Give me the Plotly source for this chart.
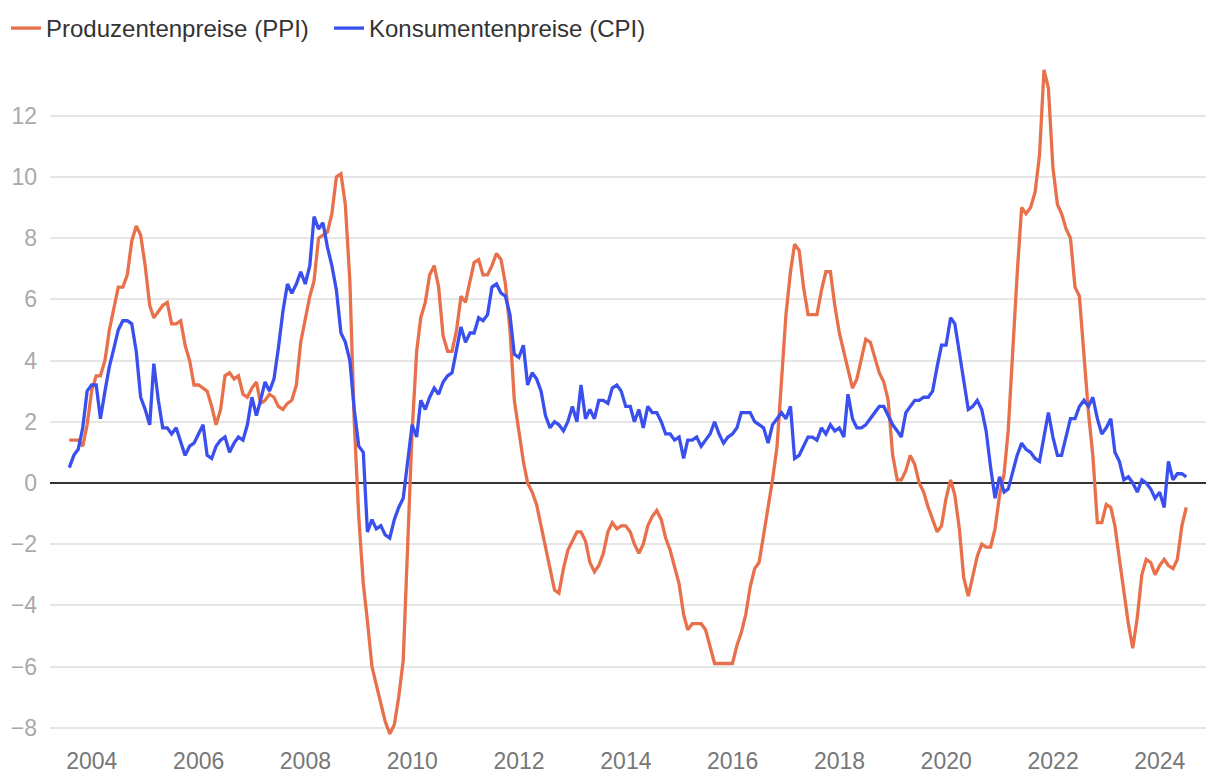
import pandas as pd
import plotly.graph_objects as go

# Monthly data, July 2003 - June 2024 (year-on-year change, %)
start_month = "2003-07-01"

ppi = [
    # 2003 (Jul-Dec)
    1.4, 1.4, 1.4, 1.2, 1.9, 3.0,
    # 2004
    3.5, 3.5, 4.0, 5.0, 5.7, 6.4, 6.4, 6.8, 7.9, 8.4, 8.1, 7.1,
    # 2005
    5.8, 5.4, 5.6, 5.8, 5.9, 5.2, 5.2, 5.3, 4.5, 4.0, 3.2, 3.2,
    # 2006
    3.1, 3.0, 2.5, 1.9, 2.4, 3.5, 3.6, 3.4, 3.5, 2.9, 2.8, 3.1,
    # 2007
    3.3, 2.6, 2.7, 2.9, 2.8, 2.5, 2.4, 2.6, 2.7, 3.2, 4.6, 5.4,
    # 2008
    6.1, 6.6, 8.0, 8.1, 8.2, 8.8, 10.0, 10.1, 9.1, 6.6, 2.0, -1.1,
    # 2009
    -3.3, -4.5, -6.0, -6.6, -7.2, -7.8, -8.2, -7.9, -7.0, -5.8, -2.1, 1.7,
    # 2010
    4.3, 5.4, 5.9, 6.8, 7.1, 6.4, 4.8, 4.3, 4.3, 5.0, 6.1, 5.9,
    # 2011
    6.6, 7.2, 7.3, 6.8, 6.8, 7.1, 7.5, 7.3, 6.5, 5.0, 2.7, 1.7,
    # 2012
    0.7, 0.0, -0.3, -0.7, -1.4, -2.1, -2.9, -3.5, -3.6, -2.8, -2.2, -1.9,
    # 2013
    -1.6, -1.6, -1.9, -2.6, -2.9, -2.7, -2.3, -1.6, -1.3, -1.5, -1.4, -1.4,
    # 2014
    -1.6, -2.0, -2.3, -2.0, -1.4, -1.1, -0.9, -1.2, -1.8, -2.2, -2.7, -3.3,
    # 2015
    -4.3, -4.8, -4.6, -4.6, -4.6, -4.8, -5.4, -5.9, -5.9, -5.9, -5.9, -5.9,
    # 2016
    -5.3, -4.9, -4.3, -3.4, -2.8, -2.6, -1.7, -0.8, 0.1, 1.2, 3.3, 5.5,
    # 2017
    6.9, 7.8, 7.6, 6.4, 5.5, 5.5, 5.5, 6.3, 6.9, 6.9, 5.8, 4.9,
    # 2018
    4.3, 3.7, 3.1, 3.4, 4.1, 4.7, 4.6, 4.1, 3.6, 3.3, 2.7, 0.9,
    # 2019
    0.1, 0.1, 0.4, 0.9, 0.6, 0.0, -0.3, -0.8, -1.2, -1.6, -1.4, -0.5,
    # 2020
    0.1, -0.4, -1.5, -3.1, -3.7, -3.0, -2.4, -2.0, -2.1, -2.1, -1.5, -0.4,
    # 2021
    0.3, 1.7, 4.4, 6.8, 9.0, 8.8, 9.0, 9.5, 10.7, 13.5, 12.9, 10.3,
    # 2022
    9.1, 8.8, 8.3, 8.0, 6.4, 6.1, 4.2, 2.3, 0.9, -1.3, -1.3, -0.7,
    # 2023
    -0.8, -1.4, -2.5, -3.6, -4.6, -5.4, -4.4, -3.0, -2.5, -2.6, -3.0, -2.7,
    # 2024 (Jan-Jun)
    -2.5, -2.7, -2.8, -2.5, -1.4, -0.8,
]

cpi = [
    # 2003 (Jul-Dec)
    0.5, 0.9, 1.1, 1.8, 3.0, 3.2,
    # 2004
    3.2, 2.1, 3.0, 3.8, 4.4, 5.0, 5.3, 5.3, 5.2, 4.3, 2.8, 2.4,
    # 2005
    1.9, 3.9, 2.7, 1.8, 1.8, 1.6, 1.8, 1.3, 0.9, 1.2, 1.3, 1.6,
    # 2006
    1.9, 0.9, 0.8, 1.2, 1.4, 1.5, 1.0, 1.3, 1.5, 1.4, 1.9, 2.8,
    # 2007
    2.2, 2.7, 3.3, 3.0, 3.4, 4.4, 5.6, 6.5, 6.2, 6.5, 6.9, 6.5,
    # 2008
    7.1, 8.7, 8.3, 8.5, 7.7, 7.1, 6.3, 4.9, 4.6, 4.0, 2.4, 1.2,
    # 2009
    1.0, -1.6, -1.2, -1.5, -1.4, -1.7, -1.8, -1.2, -0.8, -0.5, 0.6, 1.9,
    # 2010
    1.5, 2.7, 2.4, 2.8, 3.1, 2.9, 3.3, 3.5, 3.6, 4.4, 5.1, 4.6,
    # 2011
    4.9, 4.9, 5.4, 5.3, 5.5, 6.4, 6.5, 6.2, 6.1, 5.5, 4.2, 4.1,
    # 2012
    4.5, 3.2, 3.6, 3.4, 3.0, 2.2, 1.8, 2.0, 1.9, 1.7, 2.0, 2.5,
    # 2013
    2.0, 3.2, 2.1, 2.4, 2.1, 2.7, 2.7, 2.6, 3.1, 3.2, 3.0, 2.5,
    # 2014
    2.5, 2.0, 2.4, 1.8, 2.5, 2.3, 2.3, 2.0, 1.6, 1.6, 1.4, 1.5,
    # 2015
    0.8, 1.4, 1.4, 1.5, 1.2, 1.4, 1.6, 2.0, 1.6, 1.3, 1.5, 1.6,
    # 2016
    1.8, 2.3, 2.3, 2.3, 2.0, 1.9, 1.8, 1.3, 1.9, 2.1, 2.3, 2.1,
    # 2017
    2.5, 0.8, 0.9, 1.2, 1.5, 1.5, 1.4, 1.8, 1.6, 1.9, 1.7, 1.8,
    # 2018
    1.5, 2.9, 2.1, 1.8, 1.8, 1.9, 2.1, 2.3, 2.5, 2.5, 2.2, 1.9,
    # 2019
    1.7, 1.5, 2.3, 2.5, 2.7, 2.7, 2.8, 2.8, 3.0, 3.8, 4.5, 4.5,
    # 2020
    5.4, 5.2, 4.3, 3.3, 2.4, 2.5, 2.7, 2.4, 1.7, 0.5, -0.5, 0.2,
    # 2021
    -0.3, -0.2, 0.4, 0.9, 1.3, 1.1, 1.0, 0.8, 0.7, 1.5, 2.3, 1.5,
    # 2022
    0.9, 0.9, 1.5, 2.1, 2.1, 2.5, 2.7, 2.5, 2.8, 2.1, 1.6, 1.8,
    # 2023
    2.1, 1.0, 0.7, 0.1, 0.2, 0.0, -0.3, 0.1, 0.0, -0.2, -0.5, -0.3,
    # 2024 (Jan-Jun)
    -0.8, 0.7, 0.1, 0.3, 0.3, 0.2,
]

series_names = ["Produzentenpreise (PPI)", "Konsumentenpreise (CPI)"]
series_colors = ["#E8704B", "#3A50EE"]

tick_years = [2004, 2006, 2008, 2010, 2012, 2014, 2016, 2018, 2020, 2022, 2024]
y_ticks = [-8, -6, -4, -2, 0, 2, 4, 6, 8, 10, 12]

dates = pd.date_range(start_month, periods=len(cpi), freq="MS") + pd.offsets.MonthEnd(0)

fig = go.Figure()
for name, vals, col in zip(series_names, [ppi, cpi], series_colors):
    fig.add_trace(go.Scatter(
        x=dates, y=vals, mode="lines", name=name,
        line=dict(color=col, width=3.3),
        hoverinfo="x+y",
    ))

font_main = "Liberation Sans, Arial, Helvetica, sans-serif"

fig.update_layout(
    width=1220, height=780, autosize=False,
    margin=dict(l=50, r=14, t=60, b=40, autoexpand=False),
    paper_bgcolor="white", plot_bgcolor="white",
    font=dict(family=font_main, size=23, color="#333333"),
    showlegend=True,
    legend=dict(
        orientation="h", xref="container", yref="container",
        x=6 / 1220, xanchor="left", y=1 - 6 / 780, yanchor="top",
        font=dict(family=font_main, size=24, color="#333333"),
        bgcolor="rgba(0,0,0,0)", borderwidth=0,
        entrywidth=278, entrywidthmode="pixels",
        traceorder="normal",
    ),
    xaxis=dict(
        type="date",
        range=["2003-03-21", "2024-11-12"],
        tickvals=[f"{y}-01-01" for y in tick_years],
        ticktext=[str(y) for y in tick_years],
        showgrid=False, zeroline=False, showline=False,
        ticks="", tickfont=dict(size=23, color="#777777"),
        ticklabelstandoff=5,
        automargin=False,
        fixedrange=True,
    ),
    yaxis=dict(
        range=[-8.40, 13.82],
        tickvals=y_ticks,
        showgrid=True, gridcolor="#E6E6E6", gridwidth=1.6,
        zeroline=True, zerolinecolor="#333333", zerolinewidth=2,
        showline=False, ticks="",
        tickfont=dict(size=23, color="#AAAAAA"),
        ticklabelstandoff=12,
        automargin=False,
        fixedrange=True,
    ),
)

fig.write_html(
    "out.html",
    config={"displayModeBar": False},
    post_script="document.body.style.margin='0';document.body.style.overflow='hidden';",
)
